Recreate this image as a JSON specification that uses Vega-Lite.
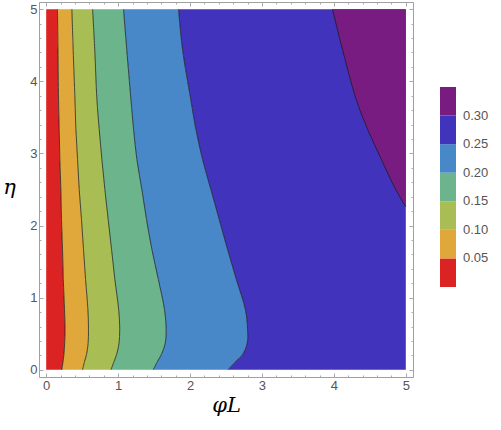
{
  "$schema": "https://vega.github.io/schema/vega-lite/v6.json",
  "width": 374,
  "height": 375,
  "autosize": {"type": "none"},
  "padding": {"left": 39, "top": 2, "right": 88, "bottom": 53},
  "config": {
    "view": {"stroke": "#a0a0a0", "strokeWidth": 1},
    "axis": {
      "domain": false,
      "grid": false,
      "labelFont": "Liberation Sans",
      "labelFontSize": 13,
      "labelColor": "#555555",
      "labelFlush": false,
      "tickColor": "#aaaaaa",
      "tickWidth": 1,
      "titleFont": "DejaVu Serif",
      "titleFontStyle": "italic",
      "titleFontWeight": "normal",
      "titleFontSize": 21,
      "titleColor": "#000000"
    }
  },
  "data": {
    "values": [
      {"b": "b0", "v": 0.025, "y": 0, "x0": 0, "x1": 0.218},
      {"b": "b0", "v": 0.025, "y": 0.12, "x0": 0, "x1": 0.235},
      {"b": "b0", "v": 0.025, "y": 0.21, "x0": 0, "x1": 0.246},
      {"b": "b0", "v": 0.025, "y": 0.37, "x0": 0, "x1": 0.257},
      {"b": "b0", "v": 0.025, "y": 0.56, "x0": 0, "x1": 0.262},
      {"b": "b0", "v": 0.025, "y": 0.833, "x0": 0, "x1": 0.255},
      {"b": "b0", "v": 0.025, "y": 1.25, "x0": 0, "x1": 0.238},
      {"b": "b0", "v": 0.025, "y": 1.667, "x0": 0, "x1": 0.227},
      {"b": "b0", "v": 0.025, "y": 2.083, "x0": 0, "x1": 0.213},
      {"b": "b0", "v": 0.025, "y": 2.5, "x0": 0, "x1": 0.204},
      {"b": "b0", "v": 0.025, "y": 2.917, "x0": 0, "x1": 0.19},
      {"b": "b0", "v": 0.025, "y": 3.333, "x0": 0, "x1": 0.181},
      {"b": "b0", "v": 0.025, "y": 3.75, "x0": 0, "x1": 0.172},
      {"b": "b0", "v": 0.025, "y": 4.44, "x0": 0, "x1": 0.164},
      {"b": "b0", "v": 0.025, "y": 5, "x0": 0, "x1": 0.157},

      {"b": "b1", "v": 0.075, "y": 0, "x0": 0.218, "x1": 0.505},
      {"b": "b1", "v": 0.075, "y": 0.12, "x0": 0.235, "x1": 0.535},
      {"b": "b1", "v": 0.075, "y": 0.21, "x0": 0.246, "x1": 0.56},
      {"b": "b1", "v": 0.075, "y": 0.37, "x0": 0.257, "x1": 0.583},
      {"b": "b1", "v": 0.075, "y": 0.56, "x0": 0.262, "x1": 0.588},
      {"b": "b1", "v": 0.075, "y": 0.833, "x0": 0.255, "x1": 0.58},
      {"b": "b1", "v": 0.075, "y": 1.25, "x0": 0.238, "x1": 0.548},
      {"b": "b1", "v": 0.075, "y": 1.667, "x0": 0.227, "x1": 0.519},
      {"b": "b1", "v": 0.075, "y": 2.083, "x0": 0.213, "x1": 0.491},
      {"b": "b1", "v": 0.075, "y": 2.5, "x0": 0.204, "x1": 0.459},
      {"b": "b1", "v": 0.075, "y": 2.917, "x0": 0.19, "x1": 0.436},
      {"b": "b1", "v": 0.075, "y": 3.333, "x0": 0.181, "x1": 0.413},
      {"b": "b1", "v": 0.075, "y": 3.75, "x0": 0.172, "x1": 0.4},
      {"b": "b1", "v": 0.075, "y": 4.44, "x0": 0.164, "x1": 0.375},
      {"b": "b1", "v": 0.075, "y": 5, "x0": 0.157, "x1": 0.357},

      {"b": "b2", "v": 0.125, "y": 0, "x0": 0.505, "x1": 0.9},
      {"b": "b2", "v": 0.125, "y": 0.12, "x0": 0.535, "x1": 0.945},
      {"b": "b2", "v": 0.125, "y": 0.21, "x0": 0.56, "x1": 0.978},
      {"b": "b2", "v": 0.125, "y": 0.37, "x0": 0.583, "x1": 1.013},
      {"b": "b2", "v": 0.125, "y": 0.56, "x0": 0.588, "x1": 1.022},
      {"b": "b2", "v": 0.125, "y": 0.833, "x0": 0.58, "x1": 1.008},
      {"b": "b2", "v": 0.125, "y": 1.25, "x0": 0.548, "x1": 0.955},
      {"b": "b2", "v": 0.125, "y": 1.667, "x0": 0.519, "x1": 0.909},
      {"b": "b2", "v": 0.125, "y": 2.083, "x0": 0.491, "x1": 0.862},
      {"b": "b2", "v": 0.125, "y": 2.5, "x0": 0.459, "x1": 0.816},
      {"b": "b2", "v": 0.125, "y": 2.917, "x0": 0.436, "x1": 0.774},
      {"b": "b2", "v": 0.125, "y": 3.333, "x0": 0.413, "x1": 0.737},
      {"b": "b2", "v": 0.125, "y": 3.75, "x0": 0.4, "x1": 0.705},
      {"b": "b2", "v": 0.125, "y": 4.44, "x0": 0.375, "x1": 0.675},
      {"b": "b2", "v": 0.125, "y": 5, "x0": 0.357, "x1": 0.645},

      {"b": "b3", "v": 0.175, "y": 0, "x0": 0.9, "x1": 1.488},
      {"b": "b3", "v": 0.175, "y": 0.12, "x0": 0.945, "x1": 1.55},
      {"b": "b3", "v": 0.175, "y": 0.21, "x0": 0.978, "x1": 1.6},
      {"b": "b3", "v": 0.175, "y": 0.37, "x0": 1.013, "x1": 1.655},
      {"b": "b3", "v": 0.175, "y": 0.56, "x0": 1.022, "x1": 1.668},
      {"b": "b3", "v": 0.175, "y": 0.833, "x0": 1.008, "x1": 1.645},
      {"b": "b3", "v": 0.175, "y": 1.25, "x0": 0.955, "x1": 1.56},
      {"b": "b3", "v": 0.175, "y": 1.667, "x0": 0.909, "x1": 1.47},
      {"b": "b3", "v": 0.175, "y": 2.083, "x0": 0.862, "x1": 1.395},
      {"b": "b3", "v": 0.175, "y": 2.5, "x0": 0.816, "x1": 1.33},
      {"b": "b3", "v": 0.175, "y": 2.917, "x0": 0.774, "x1": 1.261},
      {"b": "b3", "v": 0.175, "y": 3.333, "x0": 0.737, "x1": 1.215},
      {"b": "b3", "v": 0.175, "y": 3.75, "x0": 0.705, "x1": 1.178},
      {"b": "b3", "v": 0.175, "y": 4.44, "x0": 0.675, "x1": 1.12},
      {"b": "b3", "v": 0.175, "y": 5, "x0": 0.645, "x1": 1.075},

      {"b": "b4", "v": 0.225, "y": 0, "x0": 1.488, "x1": 2.53},
      {"b": "b4", "v": 0.225, "y": 0.12, "x0": 1.55, "x1": 2.64},
      {"b": "b4", "v": 0.225, "y": 0.21, "x0": 1.6, "x1": 2.73},
      {"b": "b4", "v": 0.225, "y": 0.37, "x0": 1.655, "x1": 2.795},
      {"b": "b4", "v": 0.225, "y": 0.56, "x0": 1.668, "x1": 2.8},
      {"b": "b4", "v": 0.225, "y": 0.833, "x0": 1.645, "x1": 2.77},
      {"b": "b4", "v": 0.225, "y": 1.25, "x0": 1.56, "x1": 2.645},
      {"b": "b4", "v": 0.225, "y": 1.667, "x0": 1.47, "x1": 2.522},
      {"b": "b4", "v": 0.225, "y": 2.083, "x0": 1.395, "x1": 2.406},
      {"b": "b4", "v": 0.225, "y": 2.5, "x0": 1.33, "x1": 2.29},
      {"b": "b4", "v": 0.225, "y": 2.917, "x0": 1.261, "x1": 2.174},
      {"b": "b4", "v": 0.225, "y": 3.333, "x0": 1.215, "x1": 2.082},
      {"b": "b4", "v": 0.225, "y": 3.75, "x0": 1.178, "x1": 2.01},
      {"b": "b4", "v": 0.225, "y": 4.44, "x0": 1.12, "x1": 1.896},
      {"b": "b4", "v": 0.225, "y": 5, "x0": 1.075, "x1": 1.84},

      {"b": "b5", "v": 0.275, "y": 0, "x0": 2.53, "x1": 5},
      {"b": "b5", "v": 0.275, "y": 0.12, "x0": 2.64, "x1": 5},
      {"b": "b5", "v": 0.275, "y": 0.21, "x0": 2.73, "x1": 5},
      {"b": "b5", "v": 0.275, "y": 0.37, "x0": 2.795, "x1": 5},
      {"b": "b5", "v": 0.275, "y": 0.56, "x0": 2.8, "x1": 5},
      {"b": "b5", "v": 0.275, "y": 0.833, "x0": 2.77, "x1": 5},
      {"b": "b5", "v": 0.275, "y": 1.25, "x0": 2.645, "x1": 5},
      {"b": "b5", "v": 0.275, "y": 1.667, "x0": 2.522, "x1": 5},
      {"b": "b5", "v": 0.275, "y": 2.083, "x0": 2.406, "x1": 5},
      {"b": "b5", "v": 0.275, "y": 2.5, "x0": 2.29, "x1": 5},
      {"b": "b5", "v": 0.275, "y": 2.917, "x0": 2.174, "x1": 5},
      {"b": "b5", "v": 0.275, "y": 3.333, "x0": 2.082, "x1": 5},
      {"b": "b5", "v": 0.275, "y": 3.75, "x0": 2.01, "x1": 5},
      {"b": "b5", "v": 0.275, "y": 4.44, "x0": 1.896, "x1": 5},
      {"b": "b5", "v": 0.275, "y": 5, "x0": 1.84, "x1": 5},

      {"b": "b6", "v": 0.325, "y": 2.26, "x0": 5, "x1": 5},
      {"b": "b6", "v": 0.325, "y": 2.5, "x0": 4.86, "x1": 5},
      {"b": "b6", "v": 0.325, "y": 2.917, "x0": 4.66, "x1": 5},
      {"b": "b6", "v": 0.325, "y": 3.333, "x0": 4.47, "x1": 5},
      {"b": "b6", "v": 0.325, "y": 3.75, "x0": 4.31, "x1": 5},
      {"b": "b6", "v": 0.325, "y": 4.44, "x0": 4.12, "x1": 5},
      {"b": "b6", "v": 0.325, "y": 5, "x0": 3.98, "x1": 5}
    ]
  },
  "layer": [
    {
      "transform": [{"filter": "datum.b !== 'b6'"}],
      "mark": {"type": "area", "orient": "horizontal", "interpolate": "catmull-rom"},
      "encoding": {
        "y": {
          "field": "y", "type": "quantitative",
          "scale": {"domain": [-0.1, 5.1], "nice": false, "zero": false},
          "axis": {
            "orient": "left",
            "values": [0, 0.2, 0.4, 0.6, 0.8, 1, 1.2, 1.4, 1.6, 1.8, 2, 2.2, 2.4, 2.6, 2.8, 3, 3.2, 3.4, 3.6, 3.8, 4, 4.2, 4.4, 4.6, 4.8, 5],
            "labelExpr": "datum.value % 1 === 0 ? format(datum.value, 'd') : ''",
            "tickSize": {"condition": {"test": "datum.value % 1 === 0", "value": -4}, "value": -2},
            "labelPadding": 6,
            "title": "η",
            "titleAngle": 0,
            "titleX": -30,
            "titleY": 191,
            "titleAlign": "center",
            "titleBaseline": "alphabetic"
          }
        },
        "x": {
          "field": "x0", "type": "quantitative",
          "scale": {"domain": [-0.1, 5.1], "nice": false, "zero": false},
          "axis": {
            "orient": "bottom",
            "values": [0, 0.2, 0.4, 0.6, 0.8, 1, 1.2, 1.4, 1.6, 1.8, 2, 2.2, 2.4, 2.6, 2.8, 3, 3.2, 3.4, 3.6, 3.8, 4, 4.2, 4.4, 4.6, 4.8, 5],
            "labelExpr": "datum.value % 1 === 0 ? format(datum.value, 'd') : ''",
            "tickSize": {"condition": {"test": "datum.value % 1 === 0", "value": -4}, "value": -2},
            "labelPadding": 6,
            "title": "φL",
            "titleY": 34,
            "titleBaseline": "alphabetic"
          }
        },
        "x2": {"field": "x1"},
        "color": {
          "field": "v", "type": "quantitative",
          "scale": {
            "type": "threshold",
            "domain": [0.05, 0.1, 0.15, 0.2, 0.25, 0.3],
            "range": ["#DC2323", "#E0A73A", "#A8BE55", "#6CB48C", "#4887C8", "#4233BC", "#781C82"]
          },
          "legend": {
            "orient": "none",
            "legendX": 401,
            "legendY": 85,
            "direction": "vertical",
            "title": null,
            "gradientLength": 206,
            "gradientThickness": 18,
            "gradientStrokeWidth": 0,
            "labelFont": "Liberation Sans",
            "labelFontSize": 13,
            "labelColor": "#555555",
            "labelOffset": 7,
            "format": ".2f"
          }
        },
        "detail": {"field": "b"}
      }
    },
    {
      "transform": [{"filter": "datum.b === 'b6'"}],
      "mark": {"type": "area", "orient": "horizontal", "interpolate": "catmull-rom"},
      "encoding": {
        "y": {"field": "y", "type": "quantitative", "axis": null},
        "x": {"field": "x0", "type": "quantitative", "axis": null},
        "x2": {"field": "x1"},
        "color": {
          "field": "v", "type": "quantitative",
          "scale": {
            "type": "threshold",
            "domain": [0.05, 0.1, 0.15, 0.2, 0.25, 0.3],
            "range": ["#DC2323", "#E0A73A", "#A8BE55", "#6CB48C", "#4887C8", "#4233BC", "#781C82"]
          },
          "legend": null
        },
        "detail": {"field": "b"}
      }
    },
    {
      "transform": [{"filter": "datum.b !== 'b0'"}],
      "mark": {"type": "line", "interpolate": "catmull-rom", "stroke": "#1a1a1a", "strokeWidth": 1, "opacity": 0.75},
      "encoding": {
        "x": {
          "field": "x0", "type": "quantitative",
          "axis": {
            "orient": "top",
            "values": [0, 0.2, 0.4, 0.6, 0.8, 1, 1.2, 1.4, 1.6, 1.8, 2, 2.2, 2.4, 2.6, 2.8, 3, 3.2, 3.4, 3.6, 3.8, 4, 4.2, 4.4, 4.6, 4.8, 5],
            "labels": false,
            "tickSize": {"condition": {"test": "datum.value % 1 === 0", "value": -4}, "value": -2},
            "title": null
          }
        },
        "y": {
          "field": "y", "type": "quantitative",
          "axis": {
            "orient": "right",
            "values": [0, 0.2, 0.4, 0.6, 0.8, 1, 1.2, 1.4, 1.6, 1.8, 2, 2.2, 2.4, 2.6, 2.8, 3, 3.2, 3.4, 3.6, 3.8, 4, 4.2, 4.4, 4.6, 4.8, 5],
            "labels": false,
            "tickSize": {"condition": {"test": "datum.value % 1 === 0", "value": -4}, "value": -2},
            "title": null
          }
        },
        "detail": {"field": "b"},
        "order": {"field": "y", "type": "quantitative"}
      }
    }
  ],
  "resolve": {"axis": {"x": "independent", "y": "independent"}}
}
